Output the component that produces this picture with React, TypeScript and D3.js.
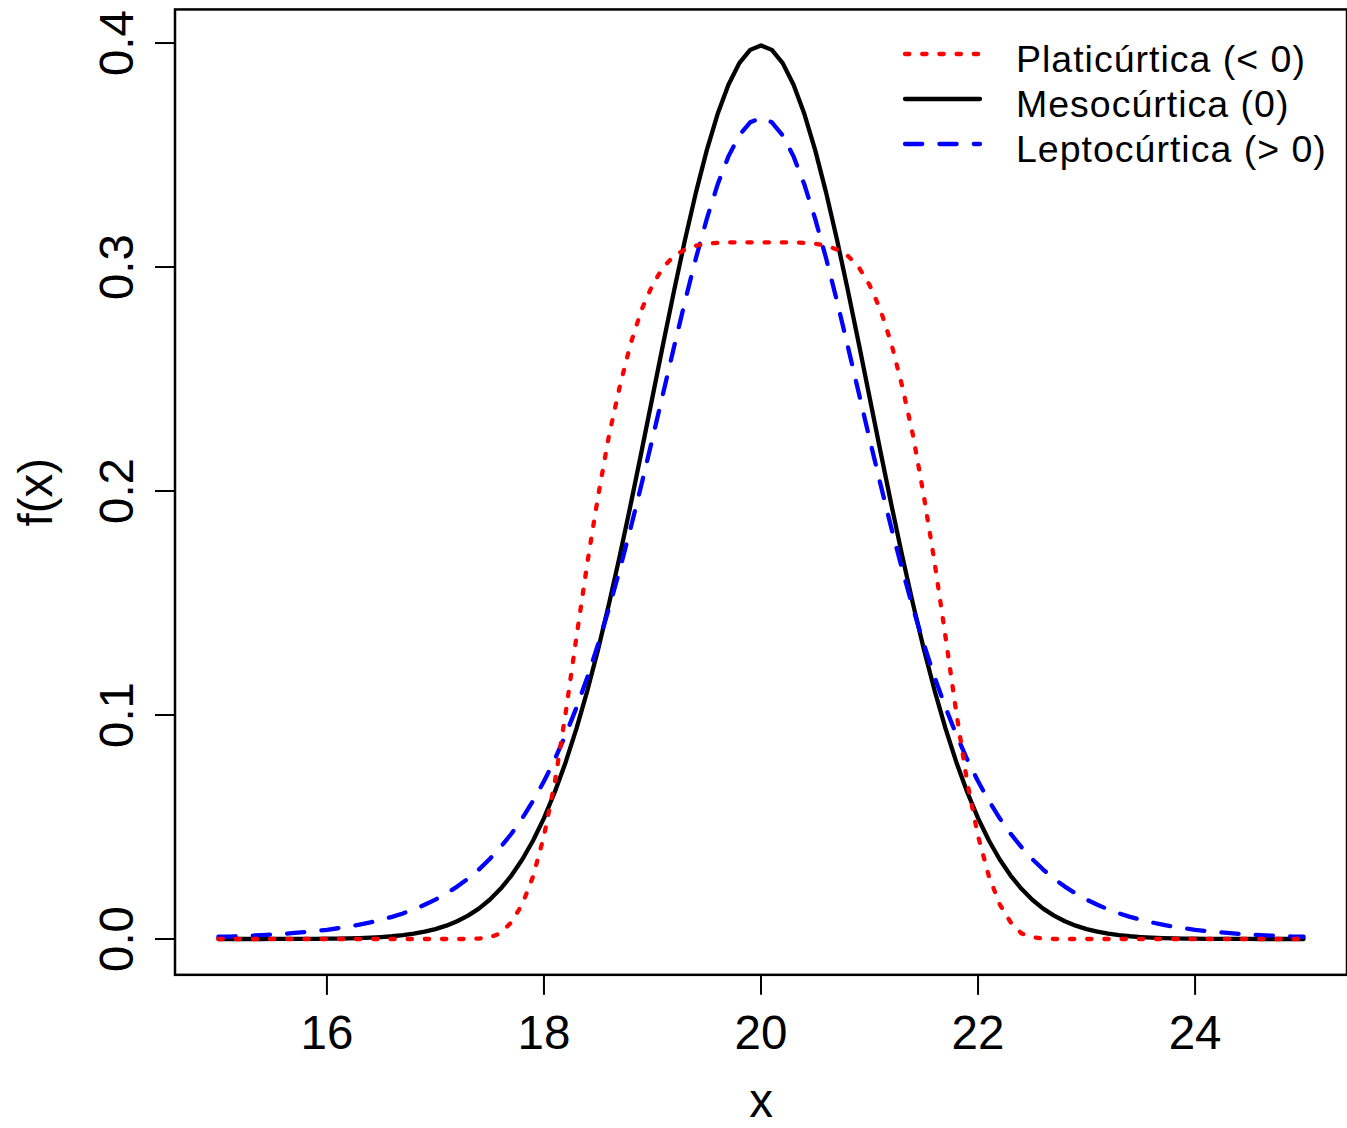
import React from 'react';
import * as d3 from 'd3';

// x grid of the three density curves (15 to 25, every 0.1)
const xValues = [
  15.0, 15.1, 15.2, 15.3, 15.4, 15.5, 15.6, 15.7, 15.8, 15.9,
  16.0, 16.1, 16.2, 16.3, 16.4, 16.5, 16.6, 16.7, 16.8, 16.9,
  17.0, 17.1, 17.2, 17.3, 17.4, 17.5, 17.6, 17.7, 17.8, 17.9,
  18.0, 18.1, 18.2, 18.3, 18.4, 18.5, 18.6, 18.7, 18.8, 18.9,
  19.0, 19.1, 19.2, 19.3, 19.4, 19.5, 19.6, 19.7, 19.8, 19.9,
  20.0,
  20.1, 20.2, 20.3, 20.4, 20.5, 20.6, 20.7, 20.8, 20.9, 21.0,
  21.1, 21.2, 21.3, 21.4, 21.5, 21.6, 21.7, 21.8, 21.9, 22.0,
  22.1, 22.2, 22.3, 22.4, 22.5, 22.6, 22.7, 22.8, 22.9, 23.0,
  23.1, 23.2, 23.3, 23.4, 23.5, 23.6, 23.7, 23.8, 23.9, 24.0,
  24.1, 24.2, 24.3, 24.4, 24.5, 24.6, 24.7, 24.8, 24.9, 25.0,
];

// Platicúrtica (< 0) - red dotted
const platicurtica = [
  0, 0, 0, 0, 0, 0, 0, 0, 0, 0,
  0, 0, 0, 0, 0, 0, 0, 0, 0, 0,
  0, 0, 0, 0, 0.0002, 0.0008, 0.0025, 0.0075, 0.0155, 0.028,
  0.046, 0.070, 0.101, 0.135, 0.168, 0.198, 0.225, 0.247, 0.266, 0.281,
  0.292, 0.300, 0.305, 0.3078, 0.3095, 0.3104, 0.3108, 0.311, 0.311, 0.311,
  0.311,
  0.311, 0.311, 0.311, 0.3108, 0.3104, 0.3095, 0.3078, 0.305, 0.300, 0.292,
  0.281, 0.266, 0.247, 0.225, 0.198, 0.168, 0.135, 0.101, 0.070, 0.046,
  0.028, 0.0155, 0.0075, 0.0025, 0.0008, 0.0002, 0, 0, 0, 0,
  0, 0, 0, 0, 0, 0, 0, 0, 0, 0,
  0, 0, 0, 0, 0, 0, 0, 0, 0, 0,
];

// Mesocúrtica (0) - black solid
const mesocurtica = [
  0.00000, 0.00000, 0.00000, 0.00001, 0.00001, 0.00002, 0.00002, 0.00004, 0.00006, 0.00009,
  0.00013, 0.00020, 0.00029, 0.00042, 0.00061, 0.00087, 0.00123, 0.00172, 0.00238, 0.00327,
  0.00443, 0.00595, 0.00792, 0.01042, 0.01358, 0.01753, 0.02239, 0.02833, 0.03547, 0.04398,
  0.05399, 0.06562, 0.07895, 0.09405, 0.11092, 0.12952, 0.14973, 0.17137, 0.19419, 0.21785,
  0.24197, 0.26609, 0.28969, 0.31225, 0.33322, 0.35207, 0.36827, 0.38139, 0.39104, 0.39695,
  0.39894,
  0.39695, 0.39104, 0.38139, 0.36827, 0.35207, 0.33322, 0.31225, 0.28969, 0.26609, 0.24197,
  0.21785, 0.19419, 0.17137, 0.14973, 0.12952, 0.11092, 0.09405, 0.07895, 0.06562, 0.05399,
  0.04398, 0.03547, 0.02833, 0.02239, 0.01753, 0.01358, 0.01042, 0.00792, 0.00595, 0.00443,
  0.00327, 0.00238, 0.00172, 0.00123, 0.00087, 0.00061, 0.00042, 0.00029, 0.00020, 0.00013,
  0.00009, 0.00006, 0.00004, 0.00002, 0.00002, 0.00001, 0.00001, 0.00000, 0.00000, 0.00000,
];

// Leptocúrtica (> 0) - blue dashed
const leptocurtica = [
  0.0010, 0.0011, 0.0013, 0.0015, 0.0017, 0.0020, 0.0023, 0.0027, 0.0031, 0.0036,
  0.0041, 0.0048, 0.0055, 0.0064, 0.0074, 0.0086, 0.0099, 0.0114, 0.0132, 0.0153,
  0.0176, 0.0203, 0.0234, 0.0269, 0.0310, 0.0357, 0.0410, 0.0470, 0.0539, 0.0617,
  0.0704, 0.0802, 0.0912, 0.1034, 0.1169, 0.1317, 0.1478, 0.1652, 0.1837, 0.2032,
  0.2234, 0.2440, 0.2646, 0.2848, 0.3039, 0.3214, 0.3368, 0.3494, 0.3588, 0.3646,
  0.3666,
  0.3646, 0.3588, 0.3494, 0.3368, 0.3214, 0.3039, 0.2848, 0.2646, 0.2440, 0.2234,
  0.2032, 0.1837, 0.1652, 0.1478, 0.1317, 0.1169, 0.1034, 0.0912, 0.0802, 0.0704,
  0.0617, 0.0539, 0.0470, 0.0410, 0.0357, 0.0310, 0.0269, 0.0234, 0.0203, 0.0176,
  0.0153, 0.0132, 0.0114, 0.0099, 0.0086, 0.0074, 0.0064, 0.0055, 0.0048, 0.0041,
  0.0036, 0.0031, 0.0027, 0.0023, 0.0020, 0.0017, 0.0015, 0.0013, 0.0011, 0.0010,
];

const xTicks = [16, 18, 20, 22, 24];
const yTicks = [0, 0.1, 0.2, 0.3, 0.4];
const yTickLabels = ['0.0', '0.1', '0.2', '0.3', '0.4'];
const legendLabels = ['Platicúrtica (< 0)', 'Mesocúrtica (0)', 'Leptocúrtica (> 0)'];
const xLabel = 'x';
const yLabel = 'f(x)';

const W = 1347;
const H = 1128;
const FONT = "'Liberation Sans', Arial, Helvetica, sans-serif";
const LW = 4.3;

export default function App() {
  const x = d3.scaleLinear().domain([14.6, 25.4]).range([175, 1347]);
  const y = d3.scaleLinear().domain([-0.016, 0.415]).range([974.84, 9.44]);

  const mk = (vals: number[]) =>
    d3
      .line<number>()
      .x((_, i) => x(xValues[i]))
      .y((v) => y(v))(vals) || '';

  const dotted = `${LW} ${LW * 3}`;
  const dashed = `${LW * 4} ${LW * 4}`;

  const series = [
    { key: 'meso', vals: mesocurtica, color: '#000000', dash: undefined as string | undefined },
    { key: 'lepto', vals: leptocurtica, color: '#0000FF', dash: dashed },
    { key: 'plati', vals: platicurtica, color: '#FF0000', dash: dotted },
  ];

  const legendItems = [
    { label: legendLabels[0], color: '#FF0000', dash: dotted },
    { label: legendLabels[1], color: '#000000', dash: undefined as string | undefined },
    { label: legendLabels[2], color: '#0000FF', dash: dashed },
  ];

  const left = 175;
  const right = 1347;
  const top = 9.44;
  const bottom = 974.84;

  return (
    <svg
      width={W}
      height={H}
      style={{ position: 'absolute', left: 0, top: 0, display: 'block', background: '#fff' }}
      fontFamily={FONT}
    >
      <rect x={0} y={0} width={W} height={H} fill="#fff" />
      {series.map((s) => (
        <path
          key={s.key}
          d={mk(s.vals)}
          fill="none"
          stroke={s.color}
          strokeWidth={LW}
          strokeLinecap="round"
          strokeLinejoin="round"
          strokeDasharray={s.dash}
        />
      ))}
      <rect
        x={left}
        y={top}
        width={right - left}
        height={bottom - top}
        fill="none"
        stroke="#000"
        strokeWidth={2.5}
      />
      {xTicks.map((t) => (
        <g key={`xt${t}`}>
          <line x1={x(t)} x2={x(t)} y1={bottom} y2={bottom + 20} stroke="#000" strokeWidth={2} />
          <text x={x(t)} y={1049} fontSize={47.5} textAnchor="middle" fill="#000">
            {String(t)}
          </text>
        </g>
      ))}
      {yTicks.map((t, i) => (
        <g key={`yt${t}`}>
          <line x1={left - 20} x2={left} y1={y(t)} y2={y(t)} stroke="#000" strokeWidth={2} />
          <text
            transform={`translate(133, ${y(t)}) rotate(-90)`}
            fontSize={47.5}
            textAnchor="middle"
            fill="#000"
          >
            {yTickLabels[i]}
          </text>
        </g>
      ))}
      <text x={(left + right) / 2} y={1117} fontSize={47.5} textAnchor="middle" fill="#000">
        {xLabel}
      </text>
      <text
        transform={`translate(52, ${(top + bottom) / 2}) rotate(-90)`}
        fontSize={47.5}
        textAnchor="middle"
        fill="#000"
      >
        {yLabel}
      </text>
      {legendItems.map((it, i) => {
        const ly = 54 + i * 45;
        return (
          <g key={it.label}>
            <line
              x1={905}
              x2={980}
              y1={ly}
              y2={ly}
              stroke={it.color}
              strokeWidth={LW}
              strokeLinecap="round"
              strokeDasharray={it.dash}
            />
            <text x={1016} y={72 + i * 44.8} fontSize={37.5} letterSpacing={1.0} fill="#000">
              {it.label}
            </text>
          </g>
        );
      })}
    </svg>
  );
}
